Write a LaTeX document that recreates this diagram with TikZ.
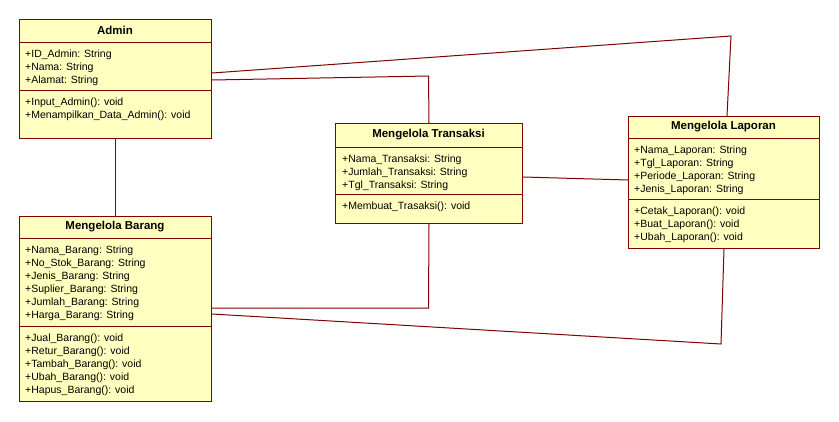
\documentclass[tikz,border=0pt]{standalone}
\usepackage{fontspec}
\setmainfont{Liberation Sans}
\definecolor{bord}{HTML}{800000}
\definecolor{fillc}{HTML}{FFFFC0}
\tikzset{
  cls/.style={draw=bord, fill=fillc, line width=1pt, inner sep=0pt, anchor=north west},
  sep/.style={draw=bord, line width=1pt},
  conn/.style={draw=bord, line width=1pt},
  ttl/.style={inner sep=0pt, font=\fontsize{11.5}{13}\selectfont\bfseries},
  txt/.style={inner sep=0pt, anchor=base west, font=\fontsize{10.5}{13}\selectfont},
}
\begin{document}
\begin{tikzpicture}[x=1pt,y=-1pt]
\useasboundingbox (0,0) rectangle (839,421);

% Admin
\node[cls, minimum width=192pt, minimum height=119pt] (admin) at (19,19) {};
\draw[sep] (19,42) -- (211,42);
\draw[sep] (19,90) -- (211,90);
\node[ttl] (adminT) at (115,30.5) {Admin};
\foreach \t [count=\i] in {+ID\_Admin: String, +Nama: String, +Alamat: String}
  \node[txt] (adminA\i) at (25,{57+13*(\i-1)}) {\t};
\foreach \t [count=\i] in {+Input\_Admin(): void, +Menampilkan\_Data\_Admin(): void}
  \node[txt] (adminM\i) at (25,{105+13*(\i-1)}) {\t};

% Mengelola Barang
\node[cls, minimum width=192pt, minimum height=185pt] (barang) at (19,216) {};
\draw[sep] (19,238) -- (211,238);
\draw[sep] (19,326) -- (211,326);
\node[ttl] (barangT) at (115,227) {Mengelola Barang};
\foreach \t [count=\i] in {+Nama\_Barang: String, +No\_Stok\_Barang: String, +Jenis\_Barang: String, +Suplier\_Barang: String, +Jumlah\_Barang: String, +Harga\_Barang: String}
  \node[txt] (barangA\i) at (25,{253+13*(\i-1)}) {\t};
\foreach \t [count=\i] in {+Jual\_Barang(): void, +Retur\_Barang(): void, +Tambah\_Barang(): void, +Ubah\_Barang(): void, +Hapus\_Barang(): void}
  \node[txt] (barangM\i) at (25,{341+13*(\i-1)}) {\t};

% Mengelola Transaksi
\node[cls, minimum width=187pt, minimum height=100pt] (trans) at (335,123) {};
\draw[sep] (335,147) -- (522,147);
\draw[sep] (335,194) -- (522,194);
\node[ttl] (transT) at (428.5,135) {Mengelola Transaksi};
\foreach \t [count=\i] in {+Nama\_Transaksi: String, +Jumlah\_Transaksi: String, +Tgl\_Transaksi: String}
  \node[txt] (transA\i) at (342,{162+13*(\i-1)}) {\t};
\node[txt] (transM1) at (342,209) {+Membuat\_Trasaksi(): void};

% Mengelola Laporan
\node[cls, minimum width=191pt, minimum height=132pt] (lap) at (628,116) {};
\draw[sep] (628,138) -- (819,138);
\draw[sep] (628,199) -- (819,199);
\node[ttl] (lapT) at (723.5,127) {Mengelola Laporan};
\foreach \t [count=\i] in {+Nama\_Laporan: String, +Tgl\_Laporan: String, +Periode\_Laporan: String, +Jenis\_Laporan: String}
  \node[txt] (lapA\i) at (634,{153+13*(\i-1)}) {\t};
\foreach \t [count=\i] in {+Cetak\_Laporan(): void, +Buat\_Laporan(): void, +Ubah\_Laporan(): void}
  \node[txt] (lapM\i) at (634,{214+13*(\i-1)}) {\t};

% connectors
\coordinate (k1) at (731,36);
\coordinate (k2) at (428.5,76);
\coordinate (k3) at (428.5,308);
\coordinate (k4) at (721,344);
\draw[conn] (admin.south) -- (barang.north);
\draw[conn] (admin.north east |- 0,73) -- (k1) -- (lap.north -| 727,0);
\draw[conn] (admin.north east |- 0,80) -- (k2) -- (trans.north);
\draw[conn] (trans.south) -- (k3) -- (barang.north east |- 0,308);
\draw[conn] (lap.south) -- (k4) -- (barang.north east |- 0,314);
\draw[conn] (trans.north east |- 0,177) -- (lap.north west |- 0,180);
\end{tikzpicture}
\end{document}
